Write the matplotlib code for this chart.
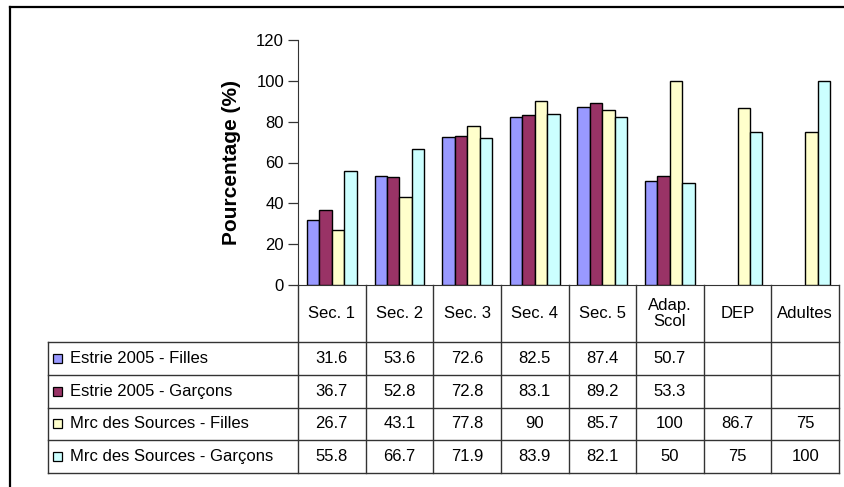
import numpy as np
import matplotlib.pyplot as plt
from matplotlib.patches import Rectangle

plt.rcParams['font.family'] = ['Liberation Sans', 'DejaVu Sans']

# categories / series
categories = ['Sec. 1', 'Sec. 2', 'Sec. 3', 'Sec. 4', 'Sec. 5', 'Adap.\nScol', 'DEP', 'Adultes']
series_names = ['Estrie 2005 - Filles', 'Estrie 2005 - Garçons',
                'Mrc des Sources - Filles', 'Mrc des Sources - Garçons']
estrie_filles = [31.6, 53.6, 72.6, 82.5, 87.4, 50.7, np.nan, np.nan]
estrie_garcons = [36.7, 52.8, 72.8, 83.1, 89.2, 53.3, np.nan, np.nan]
mrc_filles = [26.7, 43.1, 77.8, 90, 85.7, 100, 86.7, 75]
mrc_garcons = [55.8, 66.7, 71.9, 83.9, 82.1, 50, 75, 100]
colors = ['#9999FF', '#993366', '#FFFFCC', '#CCFFFF']
yticks = [0, 20, 40, 60, 80, 100, 120]

series = [estrie_filles, estrie_garcons, mrc_filles, mrc_garcons]
fs = 12

W, H = 844, 487
fig = plt.figure(figsize=(W / 100, H / 100), dpi=100)

# outer frame (top and left visible, others cut off)
fig.add_artist(plt.Line2D([10 / W, 10 / W], [0, 1 - 7 / H], color='black', lw=1.6))
fig.add_artist(plt.Line2D([10 / W, 1], [1 - 7 / H, 1 - 7 / H], color='black', lw=1.6))

ax_l, ax_r, ax_t, ax_b = 298, 839, 40, 285
ax = fig.add_axes([ax_l / W, 1 - ax_b / H, (ax_r - ax_l) / W, (ax_b - ax_t) / H])
n = len(categories)
x = np.arange(n)
w = 0.184
for j, vals in enumerate(series):
    vals = np.array(vals, dtype=float)
    ok = ~np.isnan(vals)
    ax.bar(x[ok] + (j - 1.5) * w, vals[ok], width=w, color=colors[j],
           edgecolor='black', linewidth=1.0, zorder=3)

ax.set_xlim(-0.5, n - 0.5)
ax.set_ylim(0, 120)
ax.set_yticks(yticks)
ax.tick_params(axis='y', direction='out', length=7, width=0.9, color='#333333',
               labelsize=fs, pad=3)
ax.set_xticks([])
for s in ['top', 'right']:
    ax.spines[s].set_visible(False)
ax.spines['left'].set_color('#333333')
ax.spines['bottom'].set_color('#333333')
ax.set_ylabel('Pourcentage (%)', fontsize=15, fontweight='bold', labelpad=11)

# data table under the axis
tab_l, tab_b = 48, 473
cat_w = (ax_r - ax_l) / n
left_x = -0.5 - (ax_l - tab_l) / cat_w
tab = fig.add_axes([tab_l / W, 1 - tab_b / H, (ax_r - tab_l) / W, (tab_b - ax_b) / H])
tab.set_xlim(left_x, n - 0.5)
header_h = 57
row_h = (tab_b - ax_b - header_h) / len(series)
tab.set_ylim(tab_b - ax_b, 0)
tab.axis('off')

lc = '#333333'
# vertical lines
for i in range(n + 1):
    tab.plot([i - 0.5, i - 0.5], [0, tab_b - ax_b], color=lc, lw=1.0, clip_on=False)
tab.plot([left_x, left_x], [header_h, tab_b - ax_b], color=lc, lw=1.0, clip_on=False)
# horizontal lines
for r in range(len(series) + 1):
    yy = header_h + r * row_h
    tab.plot([left_x, n - 0.5], [yy, yy], color=lc, lw=1.0, clip_on=False)

for i, c in enumerate(categories):
    tab.text(i, header_h / 2, c, ha='center', va='center', fontsize=fs, linespacing=1.1)

key = 9 / cat_w
for r, (name, vals) in enumerate(zip(series_names, series)):
    yc = header_h + (r + 0.5) * row_h
    tab.add_patch(Rectangle((left_x + 5 / cat_w, yc - 4.5), key, 9,
                            facecolor=colors[r], edgecolor='black', lw=0.9, clip_on=False))
    tab.text(left_x + 22 / cat_w, yc, name, ha='left', va='center', fontsize=fs)
    for i, v in enumerate(vals):
        if not np.isnan(v):
            tab.text(i, yc, '{:g}'.format(v), ha='center', va='center', fontsize=fs)

fig.savefig('out.png', dpi=100)
